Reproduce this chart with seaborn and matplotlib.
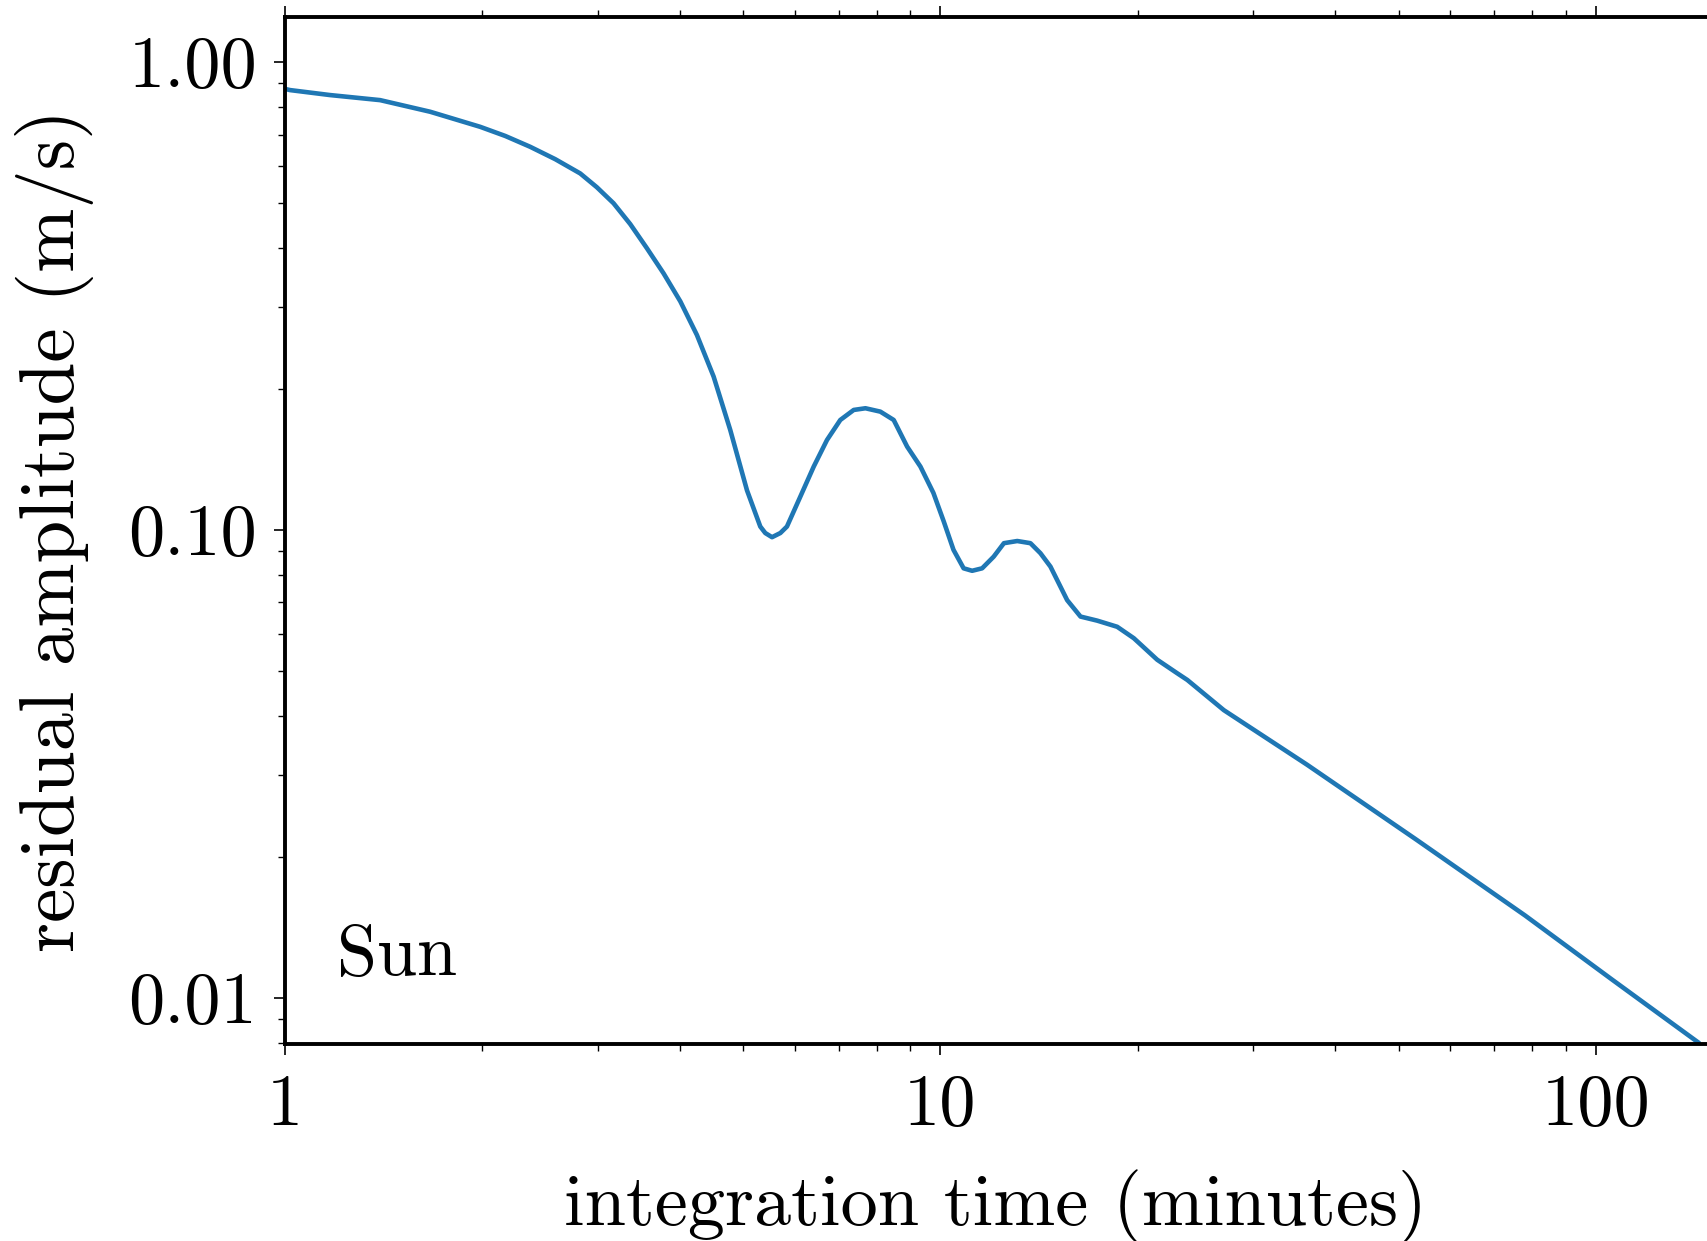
import numpy as np
import pandas as pd
import seaborn as sns
import matplotlib
matplotlib.use("Agg")
import matplotlib.pyplot as plt
from matplotlib.ticker import FixedLocator, LogLocator, NullFormatter

# ---- data ----
time_min = [1.00, 1.018, 1.171, 1.397, 1.665, 1.985, 2.168, 2.366, 2.584, 2.821,
            2.991, 3.172, 3.363, 3.566, 3.781, 4.010, 4.251, 4.508, 4.779, 5.069,
            5.311, 5.405, 5.535, 5.699, 5.833, 6.113, 6.408, 6.714, 7.035, 7.375,
            7.685, 8.098, 8.487, 8.897, 9.322, 9.757, 10.12, 10.47, 10.85, 11.18,
            11.58, 12.06, 12.50, 13.10, 13.72, 14.21, 14.72, 15.61, 16.36, 17.35,
            18.61, 19.73, 21.42, 22.98, 23.81, 27.07, 36.26, 53.2, 78.0, 105.9,
            143.7]
residual = [0.876, 0.871, 0.850, 0.829, 0.783, 0.727, 0.695, 0.659, 0.620, 0.578,
            0.540, 0.499, 0.4505, 0.400, 0.3535, 0.308, 0.261, 0.2127, 0.1636, 0.1215,
            0.1017, 0.0985, 0.0965, 0.0985, 0.1017, 0.1178, 0.1366, 0.1557, 0.1718, 0.1805,
            0.182, 0.179, 0.1718, 0.1507, 0.1366, 0.120, 0.1042, 0.0907, 0.0828, 0.0818,
            0.0828, 0.0877, 0.0937, 0.0947, 0.0937, 0.0892, 0.0835, 0.0708, 0.0653, 0.0640,
            0.0621, 0.0587, 0.0528, 0.0494, 0.0478, 0.0412, 0.0315, 0.0218, 0.0150, 0.01094,
            0.00801]

x_ticks = [1, 10, 100]
x_labels = ["1", "10", "100"]
y_ticks = [0.01, 0.1, 1.0]
y_labels = ["0.01", "0.10", "1.00"]
x_title = "integration time (minutes)"
y_title = "residual amplitude (m/s)"
annotation = "Sun"

df = pd.DataFrame({"time": time_min, "amp": residual})

sns.set_theme(style="ticks")
plt.rcParams["font.family"] = ["cmr10", "DejaVu Serif"]
plt.rcParams["axes.formatter.use_mathtext"] = True

FS = 52
fig = plt.figure(figsize=(17.07, 12.41), dpi=100)
ax = fig.add_axes([285 / 1707, (1241 - 1044) / 1241, (1707 - 285) / 1707, (1044 - 17) / 1241])

sns.lineplot(data=df, x="time", y="amp", ax=ax, color="#1f77b4", linewidth=3.3)

ax.set_xscale("log")
ax.set_yscale("log")
ax.set_xlim(1, 147.8)
ax.set_ylim(0.00797, 1.248)

ax.xaxis.set_major_locator(FixedLocator(x_ticks))
ax.set_xticklabels(x_labels)
ax.yaxis.set_major_locator(FixedLocator(y_ticks))
ax.set_yticklabels(y_labels)
ax.xaxis.set_minor_locator(LogLocator(base=10, subs=np.arange(2, 10), numticks=20))
ax.yaxis.set_minor_locator(LogLocator(base=10, subs=np.arange(2, 10), numticks=20))
ax.xaxis.set_minor_formatter(NullFormatter())
ax.yaxis.set_minor_formatter(NullFormatter())

for s in ["left", "bottom", "top"]:
    ax.spines[s].set_linewidth(2.8)
    ax.spines[s].set_color("black")
ax.spines["right"].set_visible(False)

ax.tick_params(axis="both", which="major", direction="out", length=8, width=1.2,
               labelsize=FS, color="black", labelcolor="black")
ax.tick_params(axis="both", which="minor", direction="out", length=5, width=1.0, color="black")
ax.tick_params(axis="x", which="both", top=True, labeltop=False, bottom=True)
ax.tick_params(axis="y", which="both", left=True, right=False)
ax.tick_params(axis="x", which="major", pad=14)
ax.tick_params(axis="y", which="major", pad=12)

ax.set_xlabel(x_title, fontsize=53.5, labelpad=22, color="black")
ax.set_ylabel(y_title, fontsize=55.5, labelpad=25, color="black")

ax.text(0.0366, 0.067, annotation, transform=ax.transAxes, fontsize=FS,
        va="baseline", ha="left", color="black")

fig.savefig("out.png", dpi=100)
